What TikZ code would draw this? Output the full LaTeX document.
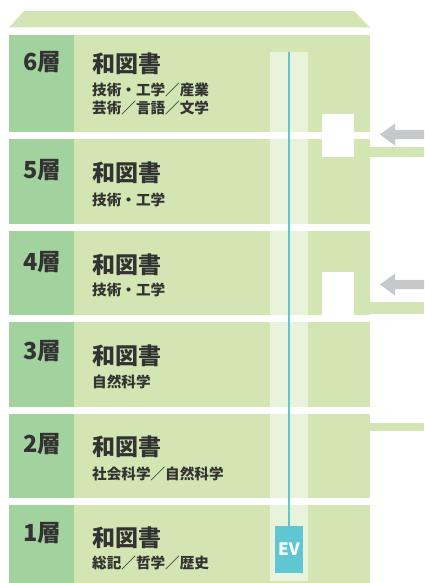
\documentclass[tikz,border=0pt]{standalone}
\usepackage{fontspec}
\newfontfamily\jp{Noto Sans CJK JP}
\definecolor{lgreen}{RGB}{210,229,178}
\definecolor{dgreen}{RGB}{162,210,158}
\definecolor{pale}{RGB}{233,243,220}
\definecolor{evcyan}{RGB}{94,199,210}
\definecolor{arrowgray}{RGB}{199,200,202}
\definecolor{ink}{RGB}{51,51,51}
\begin{document}
\begin{tikzpicture}[x=1pt,y=1pt,
  numtxt/.style={inner sep=0pt,text=ink,font=\jp\bfseries\fontsize{23.5}{23.5}\selectfont},
  titletxt/.style={inner sep=0pt,anchor=west,text=ink,font=\jp\bfseries\fontsize{23}{23}\selectfont},
  subtxt/.style={inner sep=0pt,anchor=west,text=ink,font=\jp\bfseries\fontsize{14.6}{14.6}\selectfont},
  entry/.style={fill=arrowgray,draw=none}]
\useasboundingbox (0,0) rectangle (424,583);
% roof
\fill[lgreen] (9,555.5) -- (370,555.5) -- (354,572) -- (24,572) -- cycle;
% floors
\foreach \n/\t/\b in {6/548/451,5/444/359,4/352/268,3/261/176,2/169/85,1/78/0}{
  \fill[lgreen] (9,\b) rectangle (370,\t);
  \fill[dgreen] (9,\b) rectangle (74,\t);
}
% elevator shaft stripe
\fill[pale] (270,451) rectangle (308,531);
\foreach \t/\b in {444/359,352/268,261/176,169/85}{
  \fill[pale] (270,\b) rectangle (308,\t);
}
\fill[pale] (270,2.3) rectangle (308,78);
% notches
\fill[white] (322,426) rectangle (354,469);
\fill[white] (322,268) rectangle (354,311);
% bands to the right
\fill[lgreen] (370,426) rectangle (424,436.3);
\fill[lgreen] (370,268.5) rectangle (424,280.5);
\fill[lgreen] (370,152) rectangle (424,160.3);
% entrance arrows
\fill[entry] (380,448.5) -- (395,459.5) -- (395,453.2) -- (424,453.2) -- (424,443.8) -- (395,443.8) -- (395,437.5) -- cycle;
\fill[entry] (380,298.5) -- (395,309.5) -- (395,303.2) -- (424,303.2) -- (424,293.8) -- (395,293.8) -- (395,287.5) -- cycle;
% elevator
\coordinate (evtop) at (289,531);
\node[fill=evcyan,minimum width=28pt,minimum height=47pt,inner sep=0pt,
  text=white,font=\jp\bfseries\fontsize{17}{17}\selectfont] (ev) at (289,33.5) {EV};
\draw[evcyan,line width=2.5pt] (evtop) -- (ev.north);
% labels
\node[numtxt] (n6) at (42.5,521) {6層};
\node[titletxt] (t6) at (92,519) {和図書};
\node[subtxt] (s6a) at (92,493) {技術・工学／産業};
\node[subtxt] (s6b) at (92,475) {芸術／言語／文学};
\node[numtxt] (n5) at (42.5,412.5) {5層};
\node[titletxt] (t5) at (92,410) {和図書};
\node[subtxt] (s5) at (92,383) {技術・工学};
\node[numtxt] (n4) at (42.5,321) {4層};
\node[titletxt] (t4) at (92,318) {和図書};
\node[subtxt] (s4) at (92,293) {技術・工学};
\node[numtxt] (n3) at (42.5,231.5) {3層};
\node[titletxt] (t3) at (92,227) {和図書};
\node[subtxt] (s3) at (92,201) {自然科学};
\node[numtxt] (n2) at (42.5,139) {2層};
\node[titletxt] (t2) at (92,136) {和図書};
\node[subtxt] (s2) at (92,109) {社会科学／自然科学};
\node[numtxt] (n1) at (42.5,49.5) {1層};
\node[titletxt] (t1) at (92,45) {和図書};
\node[subtxt] (s1) at (92,20) {総記／哲学／歴史};
\end{tikzpicture}
\end{document}
